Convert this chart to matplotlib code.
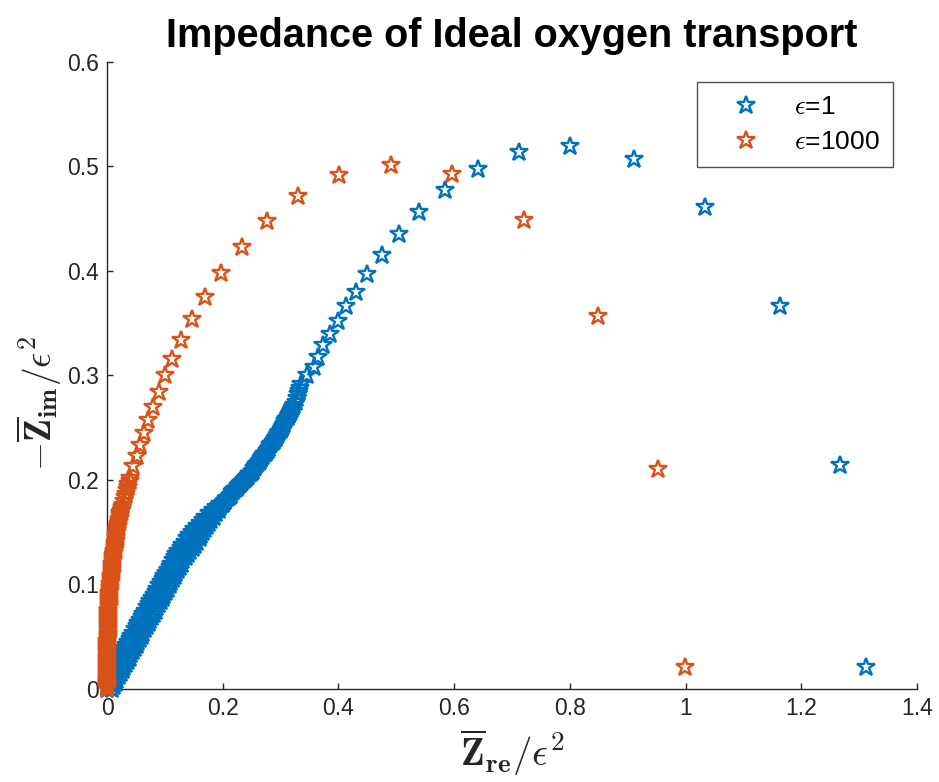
import numpy as np
import matplotlib
matplotlib.use("Agg")
import matplotlib.pyplot as plt

plt.rcParams['font.family'] = ['Liberation Sans', 'DejaVu Sans']
plt.rcParams['mathtext.fontset'] = 'cm'

# epsilon = 1 (blue)
# high-frequency part: the band is wide, read as its two edges
blue_band_im = [
    0.000, 0.003, 0.006, 0.009, 0.012, 0.015, 0.018, 0.021, 0.024, 0.027,
    0.030, 0.033, 0.036, 0.039, 0.042, 0.045, 0.048, 0.051, 0.054, 0.057,
    0.060, 0.063, 0.066, 0.069, 0.072, 0.075, 0.078, 0.081, 0.084, 0.087,
    0.090, 0.093, 0.096, 0.099, 0.102, 0.105, 0.108, 0.111, 0.114, 0.117,
    0.120, 0.123, 0.126, 0.129, 0.132, 0.135, 0.138, 0.141, 0.144, 0.147,
    0.150, 0.153, 0.156, 0.159, 0.162, 0.165, 0.168, 0.171, 0.174, 0.177]
blue_band_left_re = [
    0.000, 0.000, 0.000, 0.000, 0.003, 0.006, 0.009, 0.012, 0.015, 0.018,
    0.021, 0.024, 0.027, 0.030, 0.033, 0.036, 0.039, 0.042, 0.045, 0.048,
    0.051, 0.054, 0.057, 0.060, 0.063, 0.066, 0.069, 0.072, 0.075, 0.078,
    0.081, 0.084, 0.087, 0.090, 0.093, 0.096, 0.099, 0.102, 0.105, 0.108,
    0.111, 0.114, 0.117, 0.120, 0.123, 0.127, 0.130, 0.134, 0.138, 0.142,
    0.146, 0.150, 0.155, 0.160, 0.165, 0.170, 0.176, 0.183, 0.188, 0.195]
blue_band_right_re = [
    0.009, 0.012, 0.015, 0.018, 0.021, 0.024, 0.027, 0.030, 0.033, 0.036,
    0.039, 0.042, 0.045, 0.048, 0.051, 0.054, 0.057, 0.060, 0.063, 0.066,
    0.069, 0.072, 0.075, 0.078, 0.081, 0.084, 0.087, 0.090, 0.093, 0.096,
    0.099, 0.102, 0.105, 0.108, 0.111, 0.114, 0.117, 0.120, 0.123, 0.126,
    0.129, 0.132, 0.136, 0.140, 0.144, 0.148, 0.152, 0.156, 0.160, 0.163,
    0.165, 0.169, 0.173, 0.176, 0.180, 0.184, 0.188, 0.193, 0.196, 0.201]
# bend and the sparse low-frequency arc
blue_arc_re = [
    0.122, 0.124, 0.126, 0.128, 0.130, 0.132, 0.134, 0.136, 0.138, 0.140,
    0.142, 0.144, 0.146, 0.148, 0.150,
    0.152, 0.154, 0.156, 0.158, 0.160, 0.162, 0.164, 0.166, 0.168, 0.170,
    0.172, 0.174, 0.176, 0.178, 0.180, 0.182,
    0.184, 0.186, 0.188, 0.190, 0.192, 0.194, 0.196, 0.198, 0.200, 0.202,
    0.204, 0.206, 0.208, 0.210, 0.212, 0.214,
    0.216, 0.218, 0.220, 0.222, 0.224, 0.226, 0.228, 0.230, 0.232, 0.234,
    0.236, 0.238, 0.240, 0.242, 0.244, 0.246, 0.248, 0.250, 0.252,
    0.254, 0.256, 0.258, 0.260, 0.262, 0.264, 0.266, 0.268, 0.270, 0.272,
    0.274, 0.276, 0.278, 0.280, 0.282, 0.284, 0.286, 0.288, 0.290, 0.292,
    0.294, 0.296, 0.298, 0.300, 0.302, 0.304, 0.306, 0.308, 0.310, 0.312,
    0.314, 0.316, 0.318, 0.320, 0.322, 0.324,
    0.326, 0.328, 0.330, 0.332, 0.334,
    0.336, 0.346, 0.357, 0.365, 0.374, 0.385, 0.399, 0.413, 0.430, 0.450,
    0.475, 0.504, 0.540, 0.584, 0.641, 0.712, 0.800, 0.910, 1.034, 1.163,
    1.267, 1.312]
blue_arc_im = [
    0.122, 0.123, 0.125, 0.127, 0.129, 0.130, 0.132, 0.134, 0.135, 0.137,
    0.139, 0.140, 0.142, 0.144, 0.145,
    0.147, 0.148, 0.150, 0.151, 0.152, 0.154, 0.155, 0.157, 0.158, 0.159,
    0.161, 0.162, 0.164, 0.165, 0.166, 0.168,
    0.169, 0.170, 0.171, 0.172, 0.174, 0.175, 0.176, 0.177, 0.178, 0.179,
    0.180, 0.182, 0.183, 0.184, 0.185, 0.186,
    0.188, 0.189, 0.190, 0.191, 0.192, 0.194, 0.195, 0.196, 0.197, 0.198,
    0.200, 0.201, 0.202, 0.203, 0.204, 0.206, 0.207, 0.208, 0.209,
    0.211, 0.212, 0.214, 0.215, 0.217, 0.218, 0.220, 0.222, 0.223, 0.225,
    0.226, 0.228, 0.229, 0.231, 0.233, 0.234, 0.236, 0.237, 0.239, 0.240,
    0.242, 0.244, 0.246, 0.248, 0.250, 0.252, 0.254, 0.256, 0.258, 0.260,
    0.262, 0.264, 0.266, 0.268, 0.270, 0.272,
    0.275, 0.278, 0.282, 0.285, 0.288,
    0.292, 0.300, 0.308, 0.318, 0.329, 0.340, 0.352, 0.366, 0.380, 0.397,
    0.415, 0.435, 0.456, 0.477, 0.498, 0.514, 0.520, 0.507, 0.461, 0.366,
    0.214, 0.021]

# epsilon = 1000 (orange)
orange_re = [
    0.000, 0.000, 0.000, 0.000, 0.000, 0.000, 0.000, 0.000, 0.000, 0.000,
    0.000, 0.000, 0.000, 0.000, 0.000, 0.000, 0.000, 0.000, 0.000, 0.000,
    0.000, 0.000,
    0.000, 0.000, 0.001, 0.001, 0.001, 0.001, 0.001, 0.001, 0.001,
    0.001, 0.001, 0.002, 0.002, 0.002, 0.002, 0.002, 0.002, 0.003, 0.003,
    0.003, 0.003, 0.004, 0.004, 0.004, 0.004, 0.005, 0.005, 0.005, 0.005,
    0.006, 0.006, 0.007, 0.007, 0.008, 0.008, 0.008, 0.008, 0.009, 0.009,
    0.010, 0.010, 0.011, 0.011, 0.012, 0.012, 0.013, 0.013, 0.014, 0.014,
    0.015, 0.015, 0.016, 0.016, 0.017, 0.017, 0.018, 0.019, 0.019, 0.020,
    0.021, 0.022, 0.022, 0.023, 0.024, 0.025, 0.026, 0.027,
    0.029, 0.031, 0.033, 0.034, 0.036, 0.037, 0.039, 0.040,
    0.045, 0.051, 0.057, 0.064, 0.071, 0.079, 0.089, 0.100, 0.112, 0.127,
    0.146, 0.169, 0.197, 0.233, 0.276, 0.330, 0.401, 0.490, 0.597, 0.721,
    0.849, 0.952, 0.999]
orange_im = [
    0.000, 0.002, 0.004, 0.006, 0.008, 0.010, 0.012, 0.014, 0.016, 0.018,
    0.020, 0.022, 0.024, 0.026, 0.028, 0.030, 0.032, 0.034, 0.036, 0.038,
    0.040, 0.042,
    0.044, 0.046, 0.048, 0.050, 0.052, 0.054, 0.056, 0.058, 0.060,
    0.062, 0.064, 0.066, 0.068, 0.070, 0.072, 0.074, 0.076, 0.078, 0.080,
    0.082, 0.084, 0.086, 0.088, 0.090, 0.092, 0.094, 0.096, 0.098, 0.100,
    0.102, 0.104, 0.106, 0.108, 0.110, 0.112, 0.114, 0.116, 0.118, 0.120,
    0.122, 0.124, 0.126, 0.128, 0.130, 0.132, 0.134, 0.136, 0.138, 0.140,
    0.142, 0.144, 0.146, 0.148, 0.150, 0.152, 0.154, 0.156, 0.158, 0.160,
    0.162, 0.164, 0.166, 0.168, 0.170, 0.172, 0.174, 0.176,
    0.180, 0.184, 0.187, 0.190, 0.193, 0.196, 0.199, 0.202,
    0.213, 0.223, 0.233, 0.245, 0.257, 0.270, 0.284, 0.300, 0.316, 0.334,
    0.354, 0.375, 0.398, 0.423, 0.448, 0.472, 0.492, 0.501, 0.493, 0.449,
    0.357, 0.210, 0.021]

x_ticks = [0, 0.2, 0.4, 0.6, 0.8, 1, 1.2, 1.4]
y_ticks = [0, 0.1, 0.2, 0.3, 0.4, 0.5, 0.6]

blue_re = blue_band_left_re + blue_band_right_re + blue_arc_re
blue_im = blue_band_im + blue_band_im + blue_arc_im

fig = plt.figure(figsize=(9.39, 7.82), dpi=100)
ax = fig.add_axes([0.114, 0.119, 0.8626, 0.8018])

ax.plot(blue_re, blue_im, linestyle='none', marker='*', markersize=13.5,
        markerfacecolor='none', markeredgecolor='#0072BD', markeredgewidth=1.7,
        clip_on=False, zorder=3, label=r'$\epsilon$=1')
ax.plot(orange_re, orange_im, linestyle='none', marker='*', markersize=13.5,
        markerfacecolor='none', markeredgecolor='#D95319', markeredgewidth=1.7,
        clip_on=False, zorder=3, label=r'$\epsilon$=1000')

ax.set_xlim(0, 1.4)
ax.set_ylim(0, 0.6)
ax.set_xticks(x_ticks)
ax.set_xticklabels(['%g' % v for v in x_ticks])
ax.set_yticks(y_ticks)
ax.set_yticklabels(['%g' % v for v in y_ticks])

for s in ['top', 'right']:
    ax.spines[s].set_visible(False)
for s in ['left', 'bottom']:
    ax.spines[s].set_color('#262626')
    ax.spines[s].set_linewidth(1.0)
ax.tick_params(direction='in', length=4, width=1.0, colors='#262626',
               labelsize=16.5, pad=6)

ax.set_title('Impedance of Ideal oxygen transport', fontsize=28.5,
             fontweight='bold', pad=11)
ax.set_xlabel(r'$\overline{\mathbf{Z}}_{\mathbf{re}}/\epsilon^{\mathbf{2}}$',
              fontsize=28, color='#262626')
ax.set_ylabel(r'$-\overline{\mathbf{Z}}_{\mathbf{im}}/\epsilon^{\mathbf{2}}$',
              fontsize=27, color='#262626')
ax.xaxis.set_label_coords(0.5, -0.062)
ax.yaxis.set_label_coords(-0.053, 0.455)

leg = ax.legend(loc='upper right', bbox_to_anchor=(0.97, 0.968), fontsize=19,
                frameon=True, fancybox=False, handlelength=2.7,
                handletextpad=0.45, borderpad=0.5, labelspacing=0.4,
                borderaxespad=0)
leg.get_frame().set_edgecolor('#262626')
leg.get_frame().set_linewidth(1.0)
leg.set_zorder(5)

fig.savefig('out.png', dpi=100)
